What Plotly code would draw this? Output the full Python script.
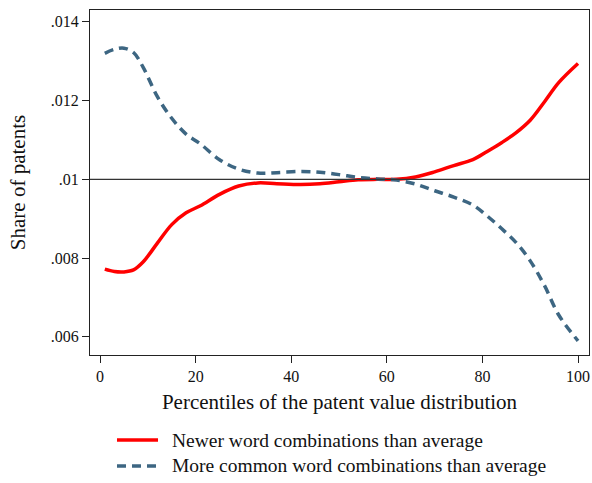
import plotly.graph_objects as go

x_pct = [1, 3, 5, 7, 9, 12, 15, 18, 21, 25, 29, 33, 37, 42, 46, 50, 54, 58, 62, 66, 70, 74, 78, 81, 84, 87, 90, 93, 96, 100]
newer = [.00772, .00766, .00765, .00770, .00790, .00838, .00885, .00915, .00933, .00962, .00983, .00991, .00989, .00987,
         .00989, .00994, .00999, .01000, .01000, .01006, .01019, .01035, .01050, .01071, .01093, .01118, .01150, .01197,
         .01246, .01294]
common = [.01320, .01330, .01333, .01322, .01285, .01210, .01155, .01115, .01090, .01050, .01026, .01016, .01017, .01020,
          .01018, .01012, .01005, .01001, .00998, .00988, .00971, .00955, .00935, .00907, .00875, .00840, .00793, .00730,
          .00655, .00590]
y_ticks = [.006, .008, .01, .012, .014]
y_labels = [".006", ".008", ".01", ".012", ".014"]
x_ticks = [0, 20, 40, 60, 80, 100]
names = ["Newer word combinations than average", "More common word combinations than average"]

RED = "#ff0000"
BLUE = "#3d6682"
FONT = "Liberation Serif"

fig = go.Figure()
fig.add_trace(go.Scatter(x=x_pct, y=newer, mode="lines", line=dict(color=RED, width=3.5, shape="spline"),
                         name=names[0], showlegend=False))
fig.add_trace(go.Scatter(x=x_pct, y=common, mode="lines",
                         line=dict(color=BLUE, width=3.5, shape="spline", dash="9px,6px"),
                         name=names[1], showlegend=False))

# reference line at .01
fig.add_shape(type="line", xref="paper", x0=0, x1=1, yref="y", y0=.01, y1=.01,
              line=dict(color="#333333", width=1.2))

# custom legend
leg_y = [-0.2464, -0.3217]
for i, (c, d) in enumerate([(RED, "solid"), (BLUE, "9px,6px")]):
    fig.add_shape(type="line", xref="paper", yref="paper", x0=0.0541, x1=0.1363, y0=leg_y[i], y1=leg_y[i],
                  line=dict(color=c, width=3.5, dash=d))
    fig.add_annotation(xref="paper", yref="paper", x=0.1603, y=leg_y[i], text=names[i], showarrow=False,
                       xanchor="left", yanchor="middle", font=dict(family=FONT, size=19.5, color="#111111"))

fig.update_layout(
    width=592, height=483,
    margin=dict(l=90, r=3, t=10, b=128),
    paper_bgcolor="white", plot_bgcolor="white",
    font=dict(family=FONT, color="#111111"),
    showlegend=False,
)
fig.update_xaxes(range=[-2.1, 102.3], tickvals=x_ticks, ticks="outside", ticklen=7, tickcolor="#222222",
                 showline=True, linecolor="#222222", linewidth=1.2, mirror=True, showgrid=False, zeroline=False,
                 tickfont=dict(size=16, family=FONT),
                 title=dict(text="Percentiles of the patent value distribution", font=dict(size=21, family=FONT),
                            standoff=10))
fig.update_yaxes(range=[.00554, .0143], tickvals=y_ticks, ticktext=y_labels, ticks="outside", ticklen=7,
                 tickcolor="#222222", showline=True, linecolor="#222222", linewidth=1.2, mirror=True,
                 showgrid=False, zeroline=False, tickfont=dict(size=16, family=FONT),
                 title=dict(text="Share of patents", font=dict(size=21, family=FONT), standoff=19))

fig.write_html("out.html", config={"displayModeBar": False},
               post_script="document.body.style.margin='0';document.body.style.overflow='hidden';")
